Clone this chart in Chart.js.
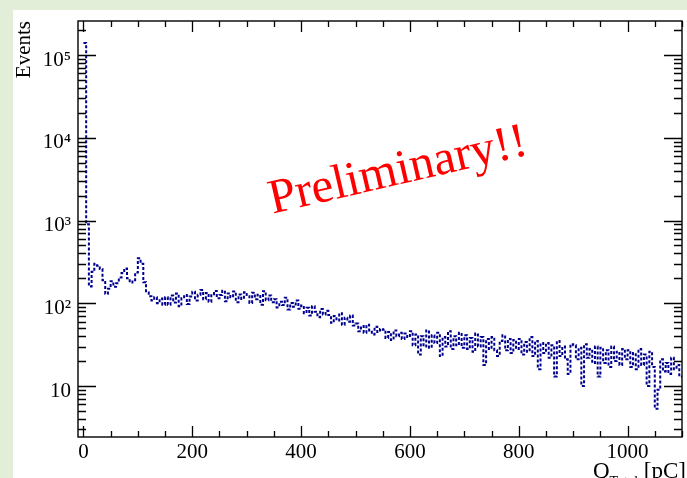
<!DOCTYPE html>
<html>
<head>
<meta charset="utf-8">
<script src="https://cdn.jsdelivr.net/npm/chart.js@4.4.1/dist/chart.umd.min.js"></script>
<style>
  html, body { margin: 0; padding: 0; background: #e3eed9; }
  #wrap { width: 687px; height: 478px; }
</style>
</head>
<body>
<div id="wrap"><canvas id="grafico" width="687" height="478"></canvas></div>
<script>
  "use strict";

  // bins de 5 pC, o primeiro começa em -5 pC
  const binStart = -5;
  const binWidth = 5;
  const counts = [
    0,
    140000, 900, 160, 240, 300, 285, 260, 190, 130, 150,
    185, 158, 175, 205, 232, 264, 200, 178, 190, 235,
    350, 300, 180, 135, 122, 108, 118, 100, 114, 96,
    118, 96, 124, 102, 131, 92, 115, 126, 98, 121,
    138, 108, 127, 145, 112, 133, 104, 129, 141, 115,
    126, 142, 106, 131, 118, 139, 103, 128, 113, 136,
    122, 101, 134, 112, 127, 96, 140, 109, 124, 103,
    112, 89, 104, 95, 117, 84, 101, 91, 108, 86,
    94, 76, 88, 71, 92, 79, 68, 85, 73, 81,
    72, 58, 70, 62, 76, 55, 67, 60, 71, 54,
    57, 46, 53, 44, 55, 47, 42, 52, 45, 49,
    48, 38, 45, 36, 47, 40, 44, 37, 43, 39,
    46, 31, 42, 24, 40, 30, 47, 29, 41, 33,
    44, 23, 39, 30, 46, 28, 40, 31, 44, 29,
    41, 28, 38, 26, 43, 30, 39, 18, 37, 28,
    39, 27, 23, 35, 41, 27, 37, 25, 36, 28,
    37, 24, 34, 26, 39, 23, 35, 16, 33, 25,
    33, 22, 31, 13, 35, 23, 30, 21, 14, 32,
    31, 21, 29, 10, 32, 22, 28, 19, 30, 13,
    29, 19, 27, 17, 30, 20, 26, 18, 28, 21,
    27, 17, 25, 16, 28, 18, 24, 10, 26, 17,
    5.3, 9, 21, 15, 19, 14, 22, 16, 18, 13,
  ];

  const xTickValues = [0, 200, 400, 600, 800, 1000];
  const xTickLabels = ["0", "200", "400", "600", "800", "1000"];
  const yTickValues = [10, 100, 1000, 10000, 100000];
  const yTickLabels = ["10", "10²", "10³", "10⁴", "10⁵"];

  const SERIF = "'Liberation Serif', 'DejaVu Serif', serif";

  // contorno do histograma: cada bin vira dois pontos (borda esquerda e direita)
  const pontos = [];
  counts.forEach((c, i) => {
    const lo = binStart + i * binWidth;
    pontos.push({ x: lo, y: c });
    pontos.push({ x: lo + binWidth, y: c });
  });

  const moldura = {
    id: "moldura",
    beforeDraw(chart) {
      const ctx = chart.ctx;
      ctx.save();
      ctx.fillStyle = "#e3eed9";
      ctx.fillRect(0, 0, chart.width, chart.height);
      ctx.fillStyle = "#ffffff";
      ctx.fillRect(13, 10, chart.width - 13, chart.height - 10);
      ctx.restore();
    },
    afterDraw(chart) {
      const ctx = chart.ctx;
      const a = chart.chartArea;
      const sx = chart.scales.x;
      const sy = chart.scales.y;
      ctx.save();
      ctx.strokeStyle = "#000";
      ctx.lineWidth = 1.3;

      // ticks para dentro, como no ROOT
      ctx.beginPath();
      for (let v = 0; v <= 1100; v += 50) {
        const px = Math.round(sx.getPixelForValue(v)) + 0.5;
        const len = v % 200 === 0 ? 11 : 6;
        ctx.moveTo(px, a.bottom);
        ctx.lineTo(px, a.bottom - len);
        ctx.moveTo(px, a.top);
        ctx.lineTo(px, a.top + len);
      }
      for (let d = 0; d <= 5; d++) {
        for (let m = 1; m <= 9; m++) {
          const v = m * Math.pow(10, d);
          if (v < sy.min || v > sy.max) continue;
          const py = Math.round(sy.getPixelForValue(v)) + 0.5;
          const len = m === 1 ? 18 : 8;
          ctx.moveTo(a.left, py);
          ctx.lineTo(a.left + len, py);
          ctx.moveTo(a.right, py);
          ctx.lineTo(a.right - len, py);
        }
      }
      ctx.stroke();

      ctx.lineWidth = 1.4;
      ctx.strokeRect(a.left, a.top, a.right - a.left, a.bottom - a.top);

      // título do eixo x com subscrito
      ctx.fillStyle = "#000";
      ctx.textBaseline = "alphabetic";
      ctx.textAlign = "left";
      ctx.font = "23px " + SERIF;
      const wQ = ctx.measureText("Q").width;
      const wUn = ctx.measureText(" [pC]").width;
      ctx.font = "14px " + SERIF;
      const wSub = ctx.measureText("Total").width;
      const fim = 686;
      const ini = fim - wUn - wSub - wQ;
      const base = 478;
      ctx.font = "23px " + SERIF;
      ctx.fillText("Q", ini, base);
      ctx.font = "14px " + SERIF;
      ctx.fillText("Total", ini + wQ, base + 8);
      ctx.font = "23px " + SERIF;
      ctx.fillText(" [pC]", ini + wQ + wSub, base);

      // marca d'água
      ctx.translate(401, 184);
      ctx.rotate(-13 * Math.PI / 180);
      ctx.fillStyle = "#ff0000";
      ctx.textAlign = "center";
      ctx.font = "49px " + SERIF;
      ctx.fillText("Preliminary!!", 0, 0);
      ctx.restore();
    },
  };

  const canvas = document.getElementById("grafico");
  new Chart(canvas.getContext("2d"), {
    type: "line",
    data: {
      datasets: [
        {
          data: pontos,
          borderColor: "#00008f",
          borderWidth: 2,
          borderDash: [3, 2],
          pointRadius: 0,
          fill: false,
          tension: 0,
        },
      ],
    },
    options: {
      responsive: false,
      animation: false,
      layout: { padding: { top: 21, right: 5, left: 0, bottom: 0 } },
      plugins: {
        legend: { display: false },
        tooltip: { enabled: false },
      },
      scales: {
        x: {
          type: "linear",
          min: -10,
          max: 1100,
          grid: { display: false, drawTicks: false },
          border: { display: false },
          afterBuildTicks: (s) => {
            s.ticks = xTickValues.map((v) => ({ value: v }));
          },
          afterFit: (s) => {
            s.height = 41;
          },
          ticks: {
            autoSkip: false,
            maxRotation: 0,
            padding: 3,
            color: "#000",
            font: { family: SERIF, size: 21 },
            callback: (v) => {
              const i = xTickValues.indexOf(v);
              return i >= 0 ? xTickLabels[i] : "";
            },
          },
        },
        y: {
          type: "logarithmic",
          min: 2.42,
          max: 258000,
          grid: { display: false, drawTicks: false },
          border: { display: false },
          afterBuildTicks: (s) => {
            s.ticks = yTickValues.map((v) => ({ value: v }));
          },
          afterFit: (s) => {
            s.width = 78;
          },
          ticks: {
            autoSkip: false,
            padding: 7,
            labelOffset: 5,
            color: "#000",
            font: { family: SERIF, size: 21 },
            callback: (v) => {
              const i = yTickValues.indexOf(v);
              return i >= 0 ? yTickLabels[i] : "";
            },
          },
          title: {
            display: true,
            text: "Events",
            align: "end",
            color: "#000",
            font: { family: SERIF, size: 21 },
            padding: { top: 12, bottom: 0 },
          },
        },
      },
    },
    plugins: [moldura],
  });
</script>
</body>
</html>
